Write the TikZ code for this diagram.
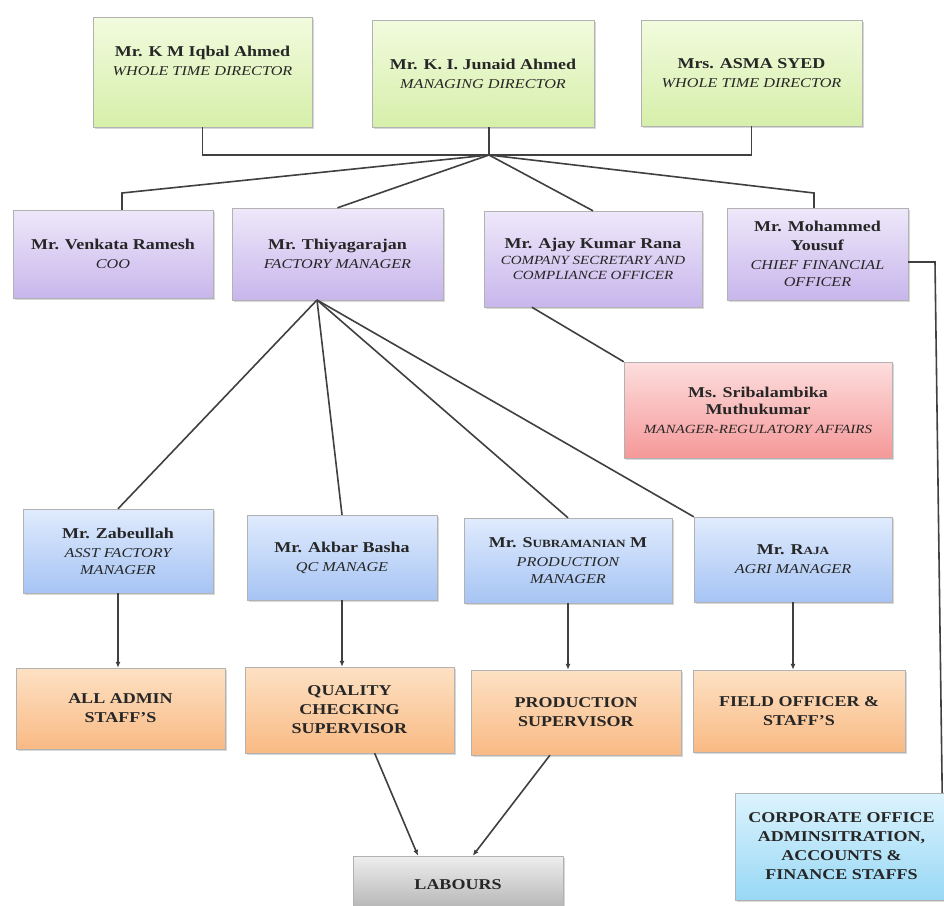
\documentclass[tikz,border=0pt]{standalone}
\usepackage{fontspec}
\setmainfont{Liberation Serif}[FakeStretch=1.2]
\usetikzlibrary{calc, arrows.meta, shadows}

\definecolor{grnTop}{RGB}{242,251,222}
\definecolor{grnBot}{RGB}{214,239,170}
\definecolor{prpTop}{RGB}{238,232,250}
\definecolor{prpBot}{RGB}{200,182,236}
\definecolor{redTop}{RGB}{253,222,222}
\definecolor{redBot}{RGB}{245,152,152}
\definecolor{bluTop}{RGB}{224,235,253}
\definecolor{bluBot}{RGB}{166,196,244}
\definecolor{orgTop}{RGB}{253,225,196}
\definecolor{orgBot}{RGB}{249,186,132}
\definecolor{gryTop}{RGB}{238,238,238}
\definecolor{gryBot}{RGB}{176,176,176}
\definecolor{cynTop}{RGB}{220,243,253}
\definecolor{cynBot}{RGB}{152,216,245}

\tikzset{
  box/.style={rectangle, draw=black!30, align=center, inner sep=2pt,
    font=\fontsize{15}{19}\selectfont, text=black!85,
    drop shadow={shadow xshift=1.5pt, shadow yshift=-1.5pt, opacity=0.3}},
  greenbox/.style={box, top color=grnTop, bottom color=grnBot},
  purplebox/.style={box, top color=prpTop, bottom color=prpBot},
  redbox/.style={box, top color=redTop, bottom color=redBot},
  bluebox/.style={box, top color=bluTop, bottom color=bluBot},
  orangebox/.style={box, top color=orgTop, bottom color=orgBot},
  graybox/.style={box, top color=gryTop, bottom color=gryBot},
  cyanbox/.style={box, top color=cynTop, bottom color=cynBot},
  link/.style={draw=black!75, line width=1.6pt},
  arrowlink/.style={link, -{Latex[length=6pt, width=5pt]}}
}

\begin{document}
\begin{tikzpicture}[x=1pt, y=-1pt]

\newcommand{\nameText}[1]{\textbf{#1}}
\newcommand{\roleText}[1]{{\itshape\fontsize{13.5}{17}\selectfont #1}}
\newcommand{\roleSmall}[1]{{\itshape\fontsize{12.5}{15}\selectfont #1}}
\newcommand{\capsSmall}[1]{{\fontsize{11}{13}\selectfont #1}}

\path[use as bounding box, fill=white] (0,0) rectangle (944,905);

% directors
\node[greenbox, minimum width=219pt, minimum height=110pt] (iqbal) at (202.5,72)
  {\nameText{Mr. K M Iqbal Ahmed}\\\roleText{WHOLE TIME DIRECTOR}\\[4pt]};
\node[greenbox, minimum width=222pt, minimum height=107pt] (junaid) at (483,73.5)
  {\nameText{Mr. K. I. Junaid Ahmed}\\\roleText{MANAGING DIRECTOR}};
\node[greenbox, minimum width=221pt, minimum height=106pt] (asma) at (751.5,73)
  {\nameText{Mrs. ASMA SYED}\\\roleText{WHOLE TIME DIRECTOR}};

% heads
\node[purplebox, minimum width=200pt, minimum height=88pt] (venkata) at (113,254)
  {\nameText{Mr. Venkata Ramesh}\\\roleText{COO}};
\node[purplebox, minimum width=211pt, minimum height=92pt] (thiya) at (337.5,254)
  {\nameText{Mr. Thiyagarajan}\\\roleText{FACTORY MANAGER}};
\node[purplebox, minimum width=218pt, minimum height=96pt] (ajay) at (593,259)
  {\nameText{Mr. Ajay Kumar Rana}\\[-3pt]\roleSmall{COMPANY SECRETARY AND}\\[-4pt]\roleSmall{COMPLIANCE OFFICER}};
\node[purplebox, minimum width=181pt, minimum height=92pt] (yousuf) at (817.5,254)
  {\nameText{Mr. Mohammed}\\\nameText{Yousuf}\\\roleText{CHIEF FINANCIAL}\\[-2pt]\roleText{OFFICER}};

\node[redbox, minimum width=268pt, minimum height=96pt] (sri) at (758,410)
  {\nameText{Ms. Sribalambika}\\[-2pt]\nameText{Muthukumar}\\\roleSmall{MANAGER-REGULATORY AFFAIRS}};

% managers
\node[bluebox, minimum width=190pt, minimum height=84pt] (zab) at (118,551)
  {\nameText{Mr. Zabeullah}\\\roleText{ASST FACTORY}\\[-2pt]\roleText{MANAGER}};
\node[bluebox, minimum width=190pt, minimum height=85pt] (akbar) at (342,557.5)
  {\nameText{Mr. Akbar Basha}\\\roleText{QC MANAGE}};
\node[bluebox, minimum width=208pt, minimum height=85pt] (subra) at (568,560.5)
  {\nameText{Mr. S\capsSmall{UBRAMANIAN} M}\\\roleText{PRODUCTION}\\[-2pt]\roleText{MANAGER}};
\node[bluebox, minimum width=198pt, minimum height=85pt] (raja) at (793,559.5)
  {\nameText{Mr. R\capsSmall{AJA}}\\\roleText{AGRI MANAGER}};

% staff
\node[orangebox, minimum width=209pt, minimum height=81pt] (admin) at (120.5,708.5)
  {\nameText{ALL ADMIN}\\\nameText{STAFF'S}};
\node[orangebox, minimum width=209pt, minimum height=86pt] (quality) at (349.5,710)
  {\nameText{QUALITY}\\\nameText{CHECKING}\\\nameText{SUPERVISOR}};
\node[orangebox, minimum width=210pt, minimum height=85pt] (production) at (576,712.5)
  {\nameText{PRODUCTION}\\\nameText{SUPERVISOR}};
\node[orangebox, minimum width=212pt, minimum height=82pt] (field) at (799,711)
  {\nameText{FIELD OFFICER \&}\\\nameText{STAFF'S}};

\node[graybox, minimum width=210pt, minimum height=58pt] (labours) at (458,885)
  {\nameText{LABOURS}};
\node[cyanbox, minimum width=213pt, minimum height=107pt] (corp) at (841.5,846.5)
  {\nameText{CORPORATE OFFICE}\\\nameText{ADMINSITRATION,}\\\nameText{ACCOUNTS \&}\\\nameText{FINANCE STAFFS}};

% board to heads
\coordinate (hub) at (489,155);
\coordinate (kneeV) at (122,193);
\coordinate (kneeY) at (814,193);
\draw[link] (iqbal.south) |- (hub) -| (asma.south);
\draw[link] (hub) -- (hub |- junaid.south);
\draw[link] (hub) -- (kneeV) -- (kneeV |- venkata.north);
\draw[link] (hub) -- (kneeY) -- (kneeY |- yousuf.north);
\draw[link] (hub) -- (thiya.north);
\draw[link] (hub) -- (ajay.north);

\draw[link] ($(ajay.south west)!0.22!(ajay.south east)$) -- (sri.north west);

% cfo to corporate office
\coordinate (cfoTurn) at (935,262);
\draw[link] (yousuf.east |- cfoTurn) -- (cfoTurn) -- ($(corp.north east)+(-6,0)$);

% factory manager
\coordinate (fhub) at (317,300);
\foreach \m in {zab, akbar, subra}
  \draw[link] (fhub) -- (\m.north);
\draw[link] (fhub) -- (raja.north west);

\foreach \a/\b in {zab/admin, akbar/quality, subra/production, raja/field}
  \draw[arrowlink] (\a.south) -- (\a.south |- \b.north);

\draw[arrowlink] ($(quality.south west)!0.62!(quality.south east)$) -- ($(labours.north west)!0.31!(labours.north east)$);
\draw[arrowlink] ($(production.south west)!0.376!(production.south east)$) -- ($(labours.north west)!0.57!(labours.north east)$);

\end{tikzpicture}
\end{document}
